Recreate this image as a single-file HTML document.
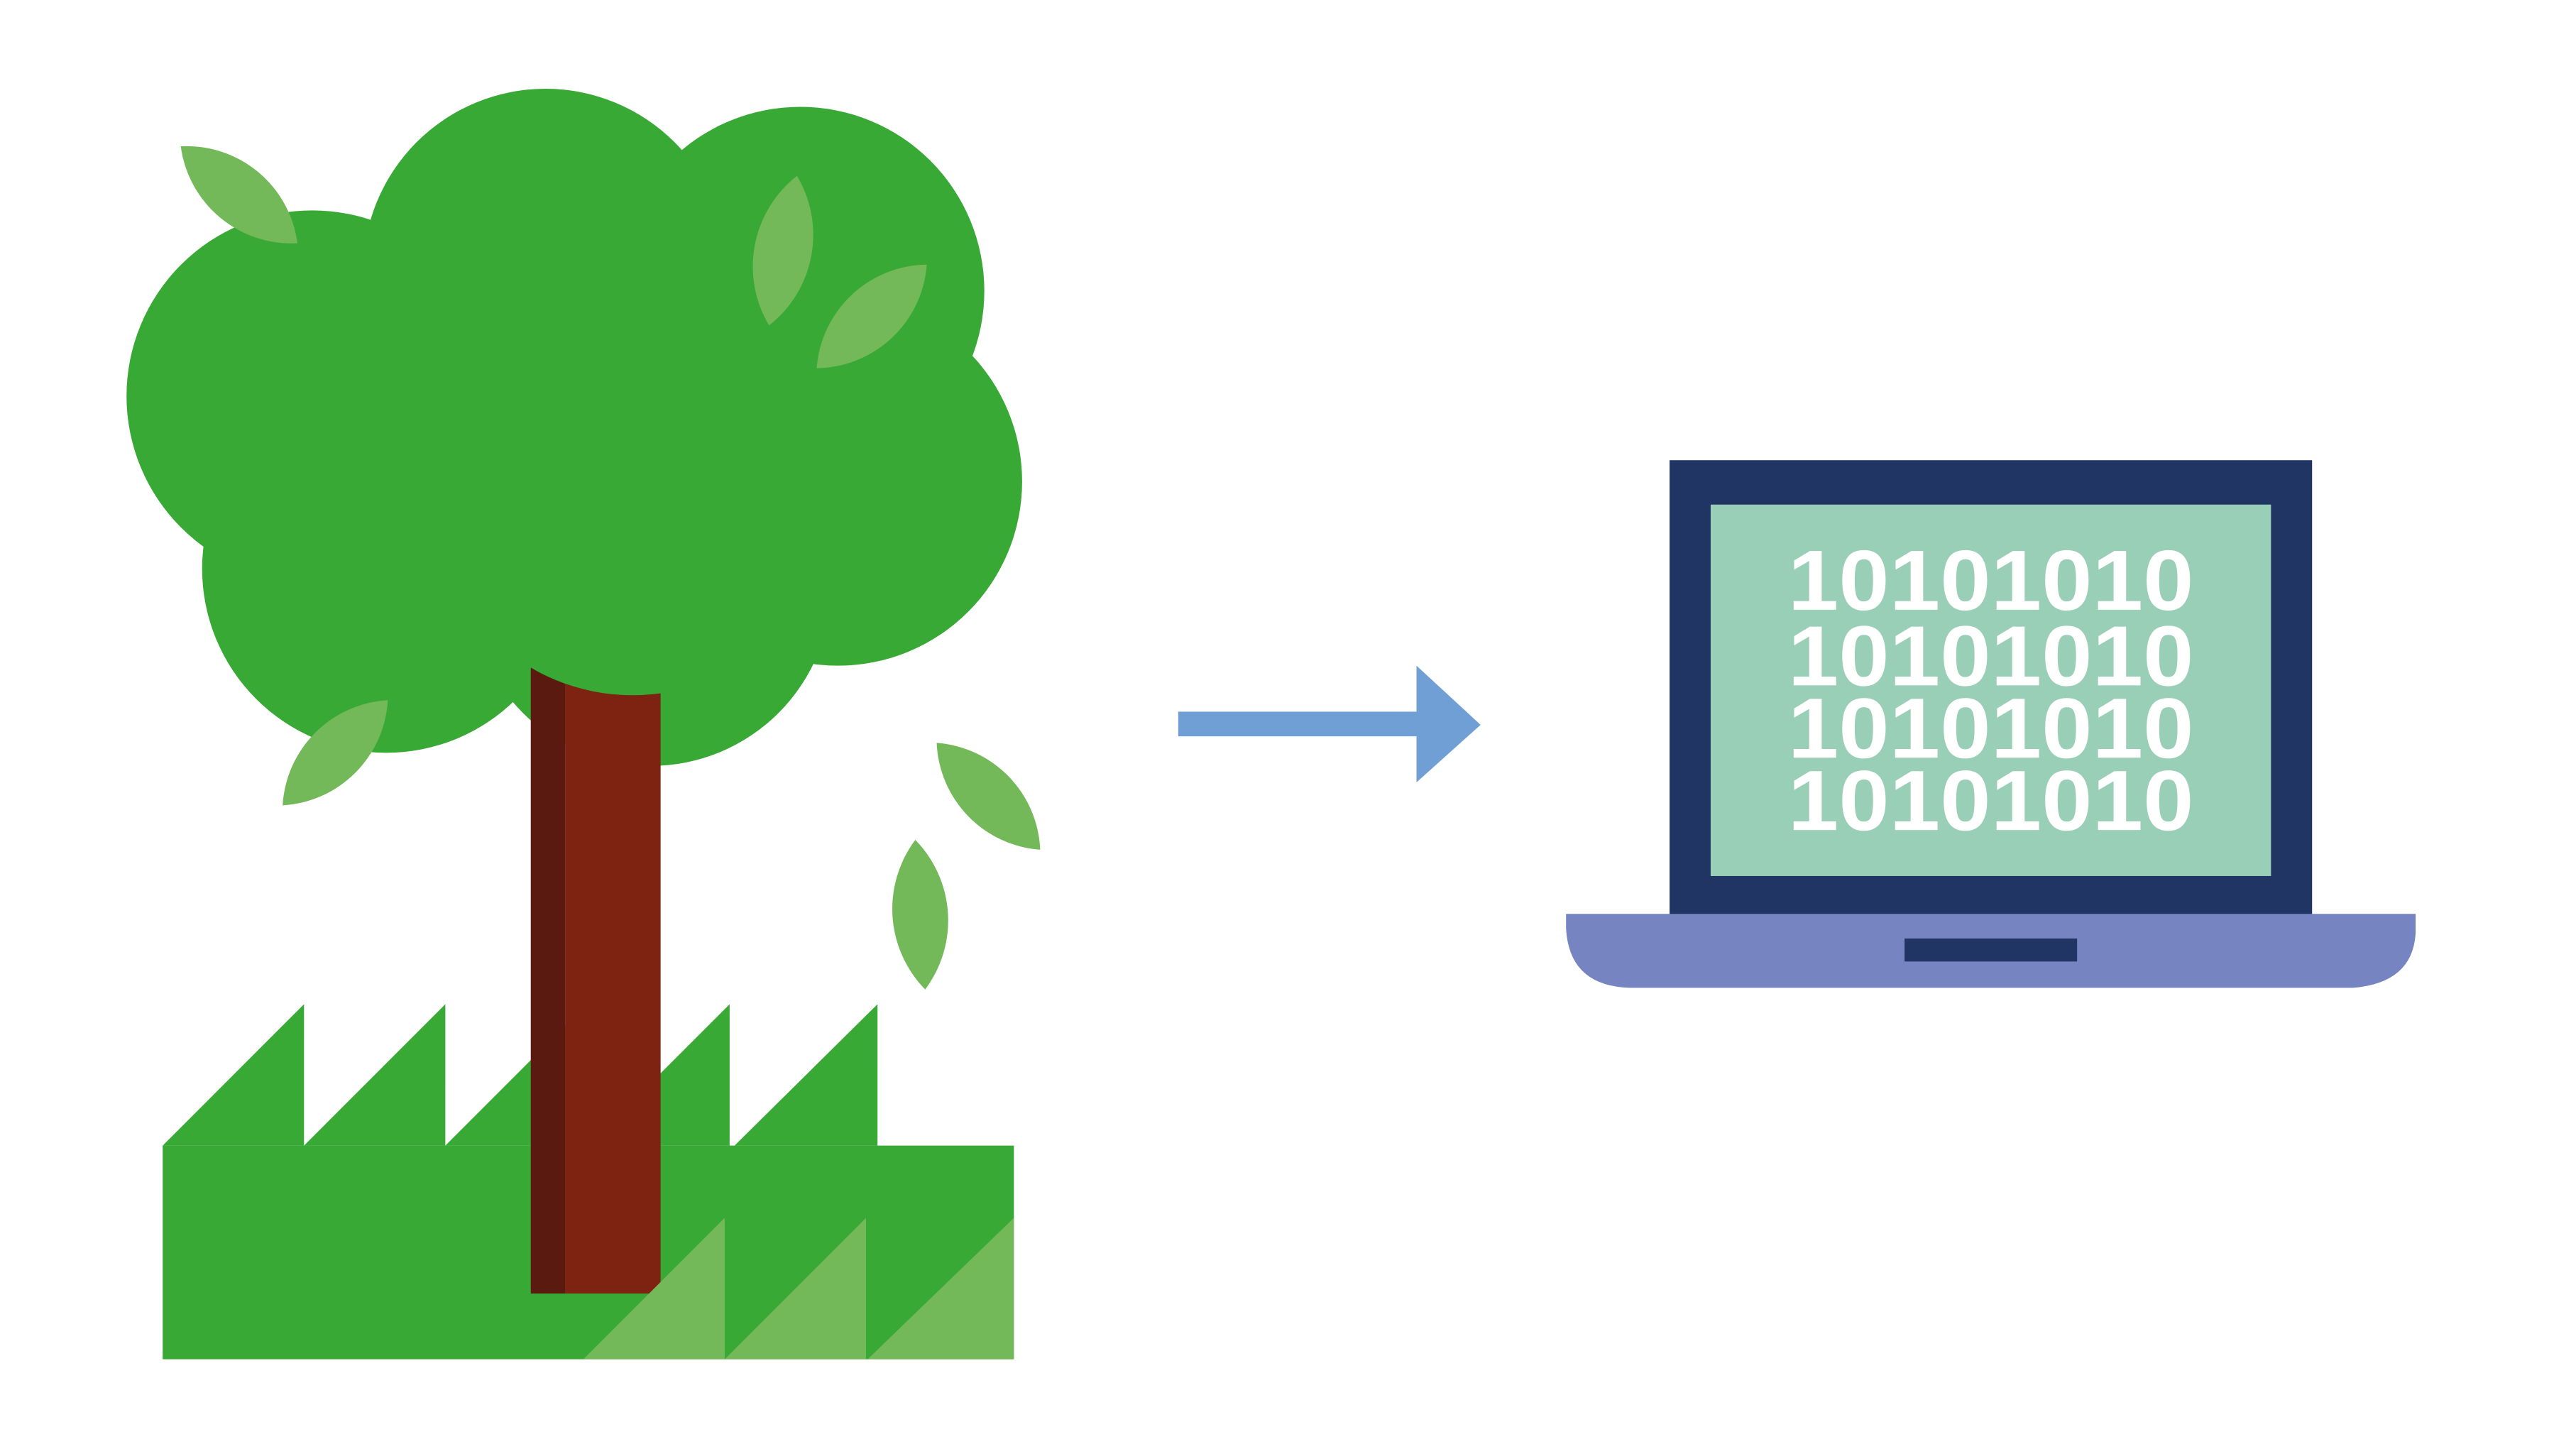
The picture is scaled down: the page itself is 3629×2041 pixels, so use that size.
<!DOCTYPE html>
<html><head><style>html,body{margin:0;padding:0;background:#fff}svg{display:block}.d{font-family:"Liberation Sans Narrow","Liberation Sans",Arial,sans-serif;font-weight:bold;font-size:52px;fill:#fff}</style></head>
<body>
<svg width="3629" height="2041" viewBox="0 0 1567.6 881.6" preserveAspectRatio="none" xmlns="http://www.w3.org/2000/svg">
<rect width="1568" height="882" fill="#fff"/>
<g fill="#39a935">
<circle cx="190" cy="241" r="113"/>
<circle cx="332" cy="165" r="111"/>
<circle cx="487" cy="177" r="112"/>
<circle cx="510" cy="293" r="112"/>
<circle cx="235" cy="346" r="112"/>
<circle cx="396" cy="356" r="110"/>
<circle cx="350" cy="270" r="160"/>
</g>
<rect x="99" y="697" width="518" height="130" fill="#39a935"/>
<g fill="#39a935">
<polygon points="99,697 185,611 185,697"/>
<polygon points="185,697 271,611 271,697"/>
<polygon points="271,697 357,611 357,697"/>
<polygon points="358,697 444,611 444,697"/>
<polygon points="447,697 534,611 534,697"/>
</g>
<rect x="323" y="404" width="21" height="383" fill="#5a1a10"/>
<rect x="344" y="404" width="58" height="383" fill="#7e2212"/>
<circle cx="385" cy="300" r="123" fill="#39a935"/>
<g fill="#74b959">
<polygon points="355,827 441,741 441,827"/>
<polygon points="441,827 527,741 527,827"/>
<polygon points="528,827 617,741 617,827"/>
<path d="M110,89 A68,68 0 0 1 181,148 A68,68 0 0 1 110,89Z"/>
<path d="M485,107 A70,70 0 0 1 468,198 A70,70 0 0 1 485,107Z"/>
<path d="M564,161 A68,68 0 0 1 497,224 A68,68 0 0 1 564,161Z"/>
<path d="M236,426 A68,68 0 0 1 172,490 A68,68 0 0 1 236,426Z"/>
<path d="M570,452 A68,68 0 0 1 633,517 A68,68 0 0 1 570,452Z"/>
<path d="M557,511 A70,70 0 0 1 563,602 A70,70 0 0 1 557,511Z"/>
</g>
<rect x="717" y="433" width="146" height="15" fill="#6f9fd4"/>
<polygon points="862,405 901,441 862,476" fill="#6f9fd4"/>
<rect x="1016" y="280" width="391" height="277" fill="#203564"/>
<rect x="1041" y="307" width="341" height="226" fill="#9acfb7"/>
<path d="M953,556 H1470 V568 Q1468,598 1432,601 H992 Q955,600 953,565 Z" fill="#7784c2"/>
<rect x="1159" y="571" width="105" height="14" fill="#203564"/>
<text class="d" x="1088" y="371" textLength="247" lengthAdjust="spacingAndGlyphs">10101010</text>
<text class="d" x="1088" y="417" textLength="247" lengthAdjust="spacingAndGlyphs">10101010</text>
<text class="d" x="1088" y="461" textLength="247" lengthAdjust="spacingAndGlyphs">10101010</text>
<text class="d" x="1088" y="505" textLength="247" lengthAdjust="spacingAndGlyphs">10101010</text>
</svg>
</body></html>
